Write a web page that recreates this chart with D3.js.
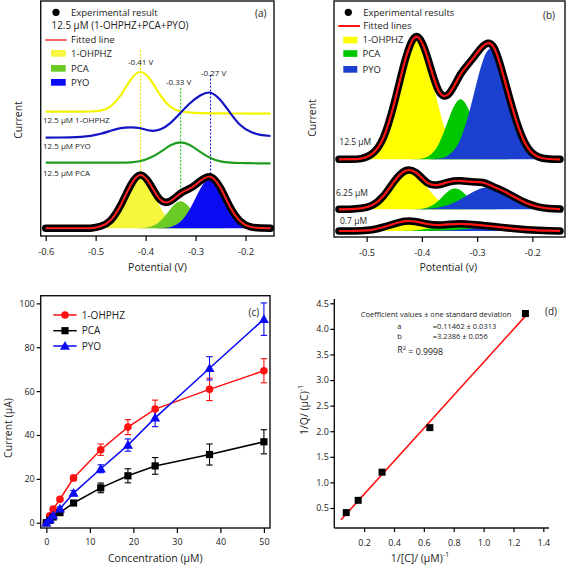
<!DOCTYPE html>
<html><head><meta charset="utf-8">
<script src="https://cdn.jsdelivr.net/npm/d3@7"></script>
<style>
html,body{margin:0;padding:0;background:#fff;}
svg{display:block;font-family:"Open Sans",sans-serif;}
</style></head><body>
<svg id="chart" width="567" height="567"></svg>
<script>
// ---------------- Panel (a) data ----------------
const potA = [-0.60,-0.57,-0.55,-0.53,-0.51,-0.49,-0.47,-0.45,-0.43,-0.41,-0.39,-0.37,-0.35,-0.33,-0.31,-0.29,-0.27,-0.25,-0.23,-0.21,-0.19,-0.17,-0.15];
const soloOHPHZ = [116.6,116.6,116.6,116.6,116.8,117.7,122.0,132.9,148.5,156.3,148.3,132.6,121.5,117.0,115.6,115.2,115.0,114.9,114.8,114.8,114.7,114.7,114.6];
const soloPYO   = [90.6,90.8,91.0,91.5,92.5,94.5,97.5,100.2,101.0,100.0,97.6,99.0,105.5,115.5,125.5,133.0,135.6,128.0,115.0,103.0,96.5,93.5,92.3];
const soloPCA   = [65.6,65.6,65.6,65.6,65.6,65.6,65.6,65.7,66.0,67.3,70.7,76.5,83.0,85.9,82.8,76.2,70.3,66.9,65.6,65.3,65.1,65.0,65.0];
const mixOHPHZ  = [0,0,0,0,0.1,2.0,8.0,23.0,43.0,53.0,41.8,20.5,6.3,1.2,0.1,0,0,0,0,0,0,0,0];
const mixPCA    = [0,0,0,0,0,0,0,0,0,0.2,1.5,7.5,19.6,27.0,19.6,7.5,1.5,0.2,0,0,0,0,0];
const mixPYO    = [0,0,0,0,0,0,0,0,0,0,0,0.2,1.4,6.8,20.5,40.0,50.0,40.0,20.5,6.8,1.4,0.2,0];
const mixFit    = [0,0,0,0,0.1,2.0,8.0,23.0,43.0,53.2,43.3,28.2,27.3,35.0,40.2,47.5,51.5,40.2,20.5,6.8,1.4,0.2,0];
const peakPotentials = [-0.41,-0.33,-0.27];
const peakLabels = ["-0.41 V","-0.33 V","-0.27 V"];
const peakGuideTop = [178.3,140.3,153.3];
const peakGuideBottom = [53.2,35.0,51.5];
const soloLabels = ["12.5 µM 1-OHPHZ","12.5 µM PYO","12.5 µM PCA"];
const ticksA = [-0.6,-0.5,-0.4,-0.3,-0.2];

// ---------------- Panel (b) data ----------------
const potB = [-0.55,-0.53,-0.51,-0.49,-0.47,-0.45,-0.43,-0.41,-0.39,-0.37,-0.35,-0.33,-0.31,-0.29,-0.27,-0.25,-0.23,-0.21,-0.19,-0.17,-0.15];
const concLabelsB = ["12.5 µM","6.25 µM","0.7 µM"];
const b125OHPHZ = [0,0.1,0.7,5.5,21.0,56.0,99.5,122.5,99.5,53.3,18.9,4.4,0.7,0.1,0,0,0,0,0,0,0];
const b125PCA   = [0,0,0,0,0,0,0,0.2,2.6,14.9,42.4,60.0,42.4,14.9,2.6,0.2,0,0,0,0,0];
const b125PYO   = [0,0,0,0,0,0,0,0,0.1,0.7,4.9,20.6,56.2,97.9,109.5,78.5,40.0,13.0,2.5,0.3,0];
const b125Fit   = [0,0.1,0.7,5.5,21.0,56.0,99.5,122.7,102.2,68.9,66.2,85.0,99.3,112.9,112.1,78.7,40.0,13.0,2.5,0.3,0];
const b625OHPHZ = [0,0.1,0.6,3.1,12.0,27.0,36.6,34.2,21.5,9.0,2.4,0.4,0,0,0,0,0,0,0,0,0];
const b625PCA   = [0,0,0,0,0,0,0,0.2,1.9,8.5,19.0,19.0,8.5,1.9,0.2,0,0,0,0,0,0];
const b625PYO   = [0,0,0,0,0,0,0,0.1,0.5,1.8,4.8,10.1,16.6,21.3,21.3,16.6,10.1,4.8,1.8,0.5,0.1];
const b625Fit   = [0,0.1,1.0,4.0,13.0,28.0,38.5,36.5,26.5,24.5,27.5,28.5,27.5,26.8,22.5,17.5,11.5,6.0,2.5,0.8,0.2];
const b07OHPHZ  = [0,0,0,0.3,1.8,5.6,9.1,7.8,3.5,0.8,0.1,0,0,0,0,0,0,0,0,0,0];
const b07PCA    = [0,0,0,0,0,0,0.2,0.8,2.2,4.2,5.8,5.8,4.2,2.2,0.8,0.2,0,0,0,0,0];
const b07PYO    = [0,0,0,0,0,0,0,0,0.1,0.3,0.8,1.6,2.6,3.4,3.4,2.6,1.6,0.8,0.3,0.1,0];
const b07Fit    = [0,0,0.3,1.2,3.8,7.2,9.8,9.3,7.0,6.0,6.7,7.2,6.6,5.6,4.5,3.3,2.2,1.3,0.7,0.3,0.1];
const ticksB = [-0.5,-0.4,-0.3,-0.2];

// ---------------- Panel (c) data ----------------
const concC = [0,0.78,1.56,3.125,6.25,12.5,18.75,25,37.5,50];
const curOHPHZ = [0,3.2,6.2,10.7,20.4,33.3,43.6,51.8,60.8,69.3];
const errOHPHZ = [0,0.3,0.6,0.9,1.3,2.6,3.4,4.1,5.1,5.5];
const curPCA   = [0,1.1,2.6,4.6,9.0,15.9,21.4,25.9,31.1,36.9];
const errPCA   = [0,0.3,0.5,0.7,1.0,2.2,3.2,3.8,4.8,5.5];
const curPYO   = [0,1.5,3.3,6.4,13.5,24.6,35.4,47.8,70.4,92.8];
const errPYO   = [0,0.3,0.5,0.8,1.2,1.8,2.8,4.0,5.3,7.4];
const seriesNamesC = ["1-OHPHZ","PCA","PYO"];
const ticksCx = [0,10,20,30,40,50];
const ticksCy = [0,20,40,60,80,100];

// ---------------- Panel (d) data ----------------
const invC = [0.08,0.16,0.32,0.64,1.28];
const invQ = [0.41,0.65,1.20,2.07,4.30];
const fitInvC = [0.045,1.28];
const fitInvQ = [0.27,4.25];
const ticksDx = [0.2,0.4,0.6,0.8,1.0,1.2,1.4];
const ticksDy = [0.5,1.0,1.5,2.0,2.5,3.0,3.5,4.0,4.5];
const coefLines = ["Coefficient values ± one standard deviation","a","=0.11462 ± 0.0313","b","=3.2386 ± 0.056"];

// ---------------- drawing ----------------
const svg = d3.select("#chart");
const FONT = '"Open Sans", sans-serif';
const curve = d3.curveNatural;

function styleAxis(g, fs){
  g.select(".domain").remove();
  g.selectAll(".tick line").attr("stroke","#000").attr("stroke-width",1.2);
  g.selectAll(".tick text").attr("fill","#222").attr("font-size",fs).attr("font-family",FONT);
}
function txt(x,y,s,opt={}){
  const t = svg.append("text").attr("x",x).attr("y",y).attr("dy","0.35em")
    .attr("font-size",opt.fs||9).attr("fill",opt.fill||"#222").attr("font-family",FONT)
    .attr("text-anchor",opt.anchor||"start").text(s);
  if(opt.rot) t.attr("transform",`rotate(-90,${x},${y})`);
  return t;
}
const fmt1 = d => d.toFixed(1);

// ===== Panel (a) =====
const xA = d3.scaleLinear().domain([-0.61,-0.143]).range([40.7,274]);
const yA = d3.scaleLinear().domain([-7.7,227.3]).range([236,1]);
const gA = svg.append("g");
const lineA = ys => d3.line().x((d,i)=>xA(potA[i])).y(d=>yA(d)).curve(curve)(ys);
const areaA = ys => d3.area().x((d,i)=>xA(potA[i])).y0(yA(0)).y1(d=>yA(Math.max(0,d))).curve(curve)(ys);
const guideCol = ["#e6e600","#22c022","#2020e0"];
peakPotentials.forEach((p,i)=>{
  gA.append("line").attr("x1",xA(p)).attr("x2",xA(p)).attr("y1",yA(peakGuideTop[i])).attr("y2",yA(peakGuideBottom[i]))
    .attr("stroke",guideCol[i]).attr("stroke-width",1.1).attr("stroke-dasharray","2,1.6");
});
gA.append("path").attr("d",lineA(soloOHPHZ)).attr("fill","none").attr("stroke","#f4f400").attr("stroke-width",2.2);
gA.append("path").attr("d",lineA(soloPYO)).attr("fill","none").attr("stroke","#1414c4").attr("stroke-width",2.2);
gA.append("path").attr("d",lineA(soloPCA)).attr("fill","none").attr("stroke","#1f9c1f").attr("stroke-width",2.2);
gA.append("path").attr("d",areaA(mixOHPHZ)).attr("fill","#f6f63c");
gA.append("path").attr("d",areaA(mixPCA)).attr("fill","#6acb24");
gA.append("path").attr("d",areaA(mixPYO)).attr("fill","#0c0cf2");
gA.append("path").attr("d",lineA(mixFit)).attr("fill","none").attr("stroke","#000").attr("stroke-width",7.5).attr("stroke-linecap","round").attr("stroke-linejoin","round");
gA.append("path").attr("d",lineA(mixFit)).attr("fill","none").attr("stroke","#ff2020").attr("stroke-width",2);
gA.append("rect").attr("x",40.7).attr("y",1).attr("width",274-40.7).attr("height",235).attr("fill","none").attr("stroke","#111").attr("stroke-width",1.4);
gA.append("g").attr("transform","translate(0,236)")
  .call(d3.axisBottom(xA).tickValues(ticksA).tickSize(5).tickPadding(7).tickFormat(fmt1))
  .call(g=>styleAxis(g,9.3));
peakLabels.forEach((s,i)=>{
  const dx=[0,-2,3][i], yy=[62.3,82.3,72.7][i];
  txt(xA(peakPotentials[i])+dx,yy,s,{fs:8,anchor:"middle"});
});
soloLabels.forEach((s,i)=>txt(43,[120.5,145.7,172.7][i],s,{fs:8}));
svg.append("circle").attr("cx",56).attr("cy",12.3).attr("r",3.6).attr("fill","#000");
txt(71,12.3,"Experimental result",{fs:9.5});
txt(51.5,25.7,"12.5 µM (1-OHPHZ+PCA+PYO)",{fs:9.9});
svg.append("line").attr("x1",45).attr("x2",66.7).attr("y1",40).attr("y2",40).attr("stroke","#ff6868").attr("stroke-width",2);
txt(71,40,"Fitted line",{fs:9.5});
[["#f6f63c","1-OHPHZ",50],["#6acb24","PCA",65],["#0c0cf2","PYO",79]].forEach(([c,s,y])=>{
  svg.append("rect").attr("x",51).attr("y",y).attr("width",14.7).attr("height",6.7).attr("fill",c);
  txt(71,y+3.4,s,{fs:9.5});
});
txt(255,13.3,"(a)",{fs:10});
txt(157.5,267,"Potential (V)",{fs:10.5,anchor:"middle"});
txt(18,120,"Current",{fs:10.5,anchor:"middle",rot:true});

// ===== Panel (b) =====
const xB = d3.scaleLinear().domain([-0.559,-0.141]).range([334,565]);
const yB = d3.scaleLinear().domain([-6,230]).range([237,1]);
const gB = svg.append("g");
const offsetsB = [71.7,21.7,0];
const setsB = [[b125OHPHZ,b125PCA,b125PYO,b125Fit],[b625OHPHZ,b625PCA,b625PYO,b625Fit],[b07OHPHZ,b07PCA,b07PYO,b07Fit]];
const colB = ["#ffff00","#00c800","#1b3fce"];
setsB.forEach((set,k)=>{
  const off = offsetsB[k];
  const ln = ys => d3.line().x((d,i)=>xB(potB[i])).y(d=>yB(d+off)).curve(curve)(ys);
  const ar = ys => d3.area().x((d,i)=>xB(potB[i])).y0(yB(off)).y1(d=>yB(d+off)).curve(curve)(ys);
  for(let j=0;j<3;j++) gB.append("path").attr("d",ar(set[j])).attr("fill",colB[j]);
  gB.append("path").attr("d",ln(set[3])).attr("fill","none").attr("stroke","#000").attr("stroke-width",7.5).attr("stroke-linecap","round").attr("stroke-linejoin","round");
  gB.append("path").attr("d",ln(set[3])).attr("fill","none").attr("stroke","#ff1414").attr("stroke-width",2.2);
});
gB.append("rect").attr("x",334).attr("y",1).attr("width",565-334).attr("height",236).attr("fill","none").attr("stroke","#111").attr("stroke-width",1.4);
gB.append("g").attr("transform","translate(0,237)")
  .call(d3.axisBottom(xB).tickValues(ticksB).tickSize(5).tickPadding(7).tickFormat(fmt1))
  .call(g=>styleAxis(g,9.3));
concLabelsB.forEach((s,i)=>txt([339.3,336,340][i],[141.7,193.3,221][i],s,{fs:8.5}));
svg.append("circle").attr("cx",348.3).attr("cy",12.3).attr("r",3.6).attr("fill","#000");
txt(363.3,12.3,"Experimental results",{fs:9.5});
svg.append("line").attr("x1",338.3).attr("x2",360).attr("y1",26).attr("y2",26).attr("stroke","#ff1414").attr("stroke-width",2);
txt(363.3,26,"Fitted lines",{fs:9.5});
[["#ffff00","1-OHPHZ",36.7],["#00c800","PCA",50.2],["#1b3fce","PYO",66]].forEach(([c,s,y])=>{
  svg.append("rect").attr("x",343.3).attr("y",y).attr("width",14).attr("height",6.7).attr("fill",c);
  txt(362.5,y+3.4,s,{fs:9.5});
});
txt(543,15,"(b)",{fs:10});
txt(448.3,267,"Potential (v)",{fs:10.5,anchor:"middle"});
txt(312,118,"Current",{fs:10.5,anchor:"middle",rot:true});

// ===== Panel (c) =====
const xC = d3.scaleLinear().domain([-1.3,51.4]).range([40.7,270]);
const yC = d3.scaleLinear().domain([-2.4,103.5]).range([528,295.7]);
const gC = svg.append("g");
const seriesC = [
  {v:curOHPHZ,e:errOHPHZ,c:"#ff1010",m:"circle"},
  {v:curPCA,e:errPCA,c:"#000",m:"square"},
  {v:curPYO,e:errPYO,c:"#0a0af5",m:"triangle"}];
function marker(g,type,x,y,c){
  if(type==="circle") g.append("circle").attr("cx",x).attr("cy",y).attr("r",3.8).attr("fill",c);
  else if(type==="square") g.append("rect").attr("x",x-3.6).attr("y",y-3.6).attr("width",7.2).attr("height",7.2).attr("fill",c);
  else g.append("path").attr("transform",`translate(${x},${y+0.8})`).attr("d",d3.symbol().type(d3.symbolTriangle).size(44)()).attr("fill",c);
}
seriesC.forEach(s=>{
  gC.append("path").attr("d",d3.line().x((d,i)=>xC(concC[i])).y(d=>yC(d))(s.v)).attr("fill","none").attr("stroke",s.c).attr("stroke-width",1.5);
});
seriesC.forEach(s=>{
  s.v.forEach((v,i)=>{
    if(s.e[i]<=0) return;
    const x=xC(concC[i]), y1=yC(v-s.e[i]), y2=yC(v+s.e[i]);
    gC.append("line").attr("x1",x).attr("x2",x).attr("y1",y1).attr("y2",y2).attr("stroke",s.c).attr("stroke-width",1.1);
    [y1,y2].forEach(yy=>gC.append("line").attr("x1",x-3.2).attr("x2",x+3.2).attr("y1",yy).attr("y2",yy).attr("stroke",s.c).attr("stroke-width",1.1));
  });
});
seriesC.forEach(s=>{ s.v.forEach((v,i)=>marker(gC,s.m,xC(concC[i]),yC(v),s.c)); });
gC.append("rect").attr("x",40.7).attr("y",295.7).attr("width",270-40.7).attr("height",528-295.7).attr("fill","none").attr("stroke","#111").attr("stroke-width",1.4);
gC.append("g").attr("transform","translate(0,528)")
  .call(d3.axisBottom(xC).tickValues(ticksCx).tickSize(5).tickPadding(6).tickFormat(d3.format("d")))
  .call(g=>styleAxis(g,9));
gC.append("g").attr("transform","translate(40.7,0)")
  .call(d3.axisLeft(yC).tickValues(ticksCy).tickSize(4).tickPadding(2).tickFormat(d3.format("d")))
  .call(g=>styleAxis(g,9));
seriesC.forEach((s,i)=>{
  const y=[315,330.7,346][i];
  svg.append("line").attr("x1",53.3).attr("x2",76.7).attr("y1",y).attr("y2",y).attr("stroke",s.c).attr("stroke-width",1.5);
  marker(svg,s.m,65,y,s.c);
  txt(81.7,y,seriesNamesC[i],{fs:10});
});
txt(248.5,312.3,"(c)",{fs:10});
txt(155.3,558,"Concentration (µM)",{fs:10.5,anchor:"middle"});
txt(8,428,"Current (µA)",{fs:10.5,anchor:"middle",rot:true});

// ===== Panel (d) =====
const xD = d3.scaleLinear().domain([0,1.438]).range([334.3,549]);
const yD = d3.scaleLinear().domain([0.109,4.584]).range([528,299]);
const gD = svg.append("g");
gD.append("path").attr("d",d3.line().x((d,i)=>xD(fitInvC[i])).y(d=>yD(d))(fitInvQ)).attr("stroke","#ff1010").attr("stroke-width",1.6).attr("fill","none");
invQ.forEach((q,i)=>gD.append("rect").attr("x",xD(invC[i])-3.5).attr("y",yD(q)-3.5).attr("width",7).attr("height",7).attr("fill","#000"));
gD.append("line").attr("x1",334.3).attr("x2",334.3).attr("y1",299).attr("y2",528).attr("stroke","#111").attr("stroke-width",1.4);
gD.append("line").attr("x1",334.3).attr("x2",549).attr("y1",528).attr("y2",528).attr("stroke","#111").attr("stroke-width",1.4);
gD.append("g").attr("transform","translate(0,528)")
  .call(d3.axisBottom(xD).tickValues(ticksDx).tickSize(4).tickPadding(8).tickFormat(fmt1))
  .call(g=>styleAxis(g,9));
gD.append("g").attr("transform","translate(334.3,0)")
  .call(d3.axisLeft(yD).tickValues(ticksDy).tickSize(4).tickPadding(1.5).tickFormat(fmt1))
  .call(g=>styleAxis(g,9));
txt(360.7,314.3,coefLines[0],{fs:7.5});
txt(397.3,326,coefLines[1],{fs:7.5});
txt(432.7,326,coefLines[2],{fs:7.5});
txt(397.3,336.7,coefLines[3],{fs:7.5});
txt(432.7,336.7,coefLines[4],{fs:7.5});
{
  const t = txt(397.3,350.3,"R",{fs:8.8});
  t.append("tspan").attr("dy","-0.5em").attr("font-size",5.8).text("2");
  t.append("tspan").attr("dy","0.5em").text(" = 0.9998");
}
txt(545,311.7,"(d)",{fs:10});
{
  const t = txt(420,558,"1/[C]/ (µM)",{fs:10.5,anchor:"middle"});
  t.append("tspan").attr("dy","-0.6em").attr("font-size",7).text("-1");
}
{
  const t = txt(304,410,"1/Q/ (µC)",{fs:10.5,anchor:"middle",rot:true});
  t.append("tspan").attr("dy","-0.6em").attr("font-size",7).text("-1");
}
</script>
</body></html>
